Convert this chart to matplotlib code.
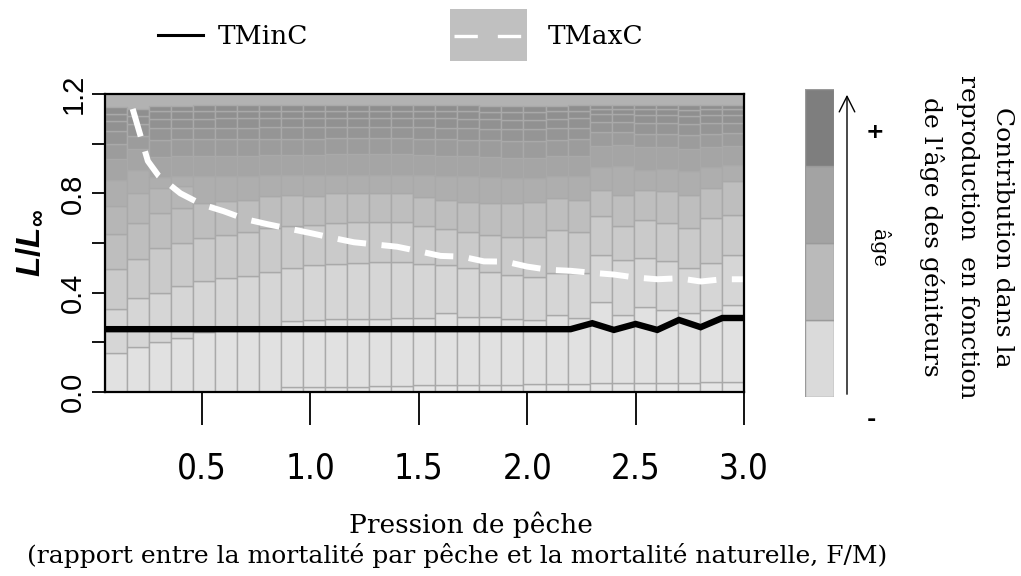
import numpy as np
import matplotlib.pyplot as plt
from matplotlib.patches import Rectangle
from matplotlib.lines import Line2D

plt.rcParams['mathtext.fontset'] = 'custom'
plt.rcParams['mathtext.it'] = 'Liberation Sans:italic:bold'
plt.rcParams['mathtext.rm'] = 'Liberation Sans:bold'
plt.rcParams['mathtext.bf'] = 'Liberation Sans:bold'

nan = np.nan
W, H = 1021, 576
SERIF = ['DejaVu Serif']

# upper limits (L/Linf) of the size/age cells, one row per boundary, one value per F column
row0 = [nan] * 8 + [0.020, 0.020, 0.022, 0.022, 0.025, 0.025, 0.027, 0.028, 0.030, 0.030, 0.030,
                    0.032, 0.032, 0.033, 0.035, 0.035, 0.035, 0.037, 0.037, 0.040, 0.040]
b1 = [0.156, 0.183, 0.200, 0.216, 0.240, 0.248, 0.250, 0.255, 0.285, 0.290, 0.292, 0.295, 0.295, 0.298,
      0.300, 0.317, 0.304, 0.301, 0.293, 0.290, 0.310, 0.297, 0.364, 0.310, 0.344, 0.331, 0.317, 0.331, 0.351]
b2 = [0.333, 0.378, 0.398, 0.425, 0.445, 0.458, 0.468, 0.485, 0.499, 0.512, 0.516, 0.520, 0.523, 0.523,
      0.515, 0.512, 0.499, 0.485, 0.472, 0.465, 0.478, 0.478, 0.552, 0.532, 0.539, 0.526, 0.500, 0.519, 0.552]
b3 = [0.495, 0.536, 0.578, 0.600, 0.620, 0.633, 0.646, 0.660, 0.667, 0.673, 0.680, 0.685, 0.685, 0.685,
      0.670, 0.656, 0.646, 0.633, 0.626, 0.626, 0.653, 0.646, 0.707, 0.667, 0.694, 0.680, 0.660, 0.700, 0.714]
b4 = [0.637, 0.680, 0.720, 0.741, 0.763, 0.770, 0.774, 0.788, 0.794, 0.790, 0.800, 0.800, 0.800, 0.800,
      0.785, 0.772, 0.767, 0.761, 0.761, 0.767, 0.781, 0.774, 0.815, 0.794, 0.815, 0.808, 0.794, 0.821, 0.848]
b5 = [0.747, 0.800, 0.820, 0.830] + [nan] * 25
s1 = [0.855, 0.895, 0.867, 0.868, 0.868, 0.870, 0.870, 0.872, 0.872, 0.872, 0.875, 0.875, 0.875, 0.875,
      0.873, 0.870, 0.868, 0.865, 0.862, 0.862, 0.868, 0.870, 0.905, 0.910, 0.895, 0.900, 0.890, 0.905, 0.915]
s2 = [0.940, 0.980, 0.948, 0.950, 0.950, 0.952, 0.952, 0.955, 0.955, 0.955, 0.958, 0.958, 0.958, 0.958,
      0.955, 0.952, 0.950, 0.946, 0.944, 0.944, 0.950, 0.952, 0.990, 0.995, 0.985, 0.985, 0.980, 0.985, 0.990]
s3 = [1.000, 1.032, 1.015, 1.017, 1.017, 1.018, 1.018, 1.020, 1.020, 1.020, 1.022, 1.022, 1.022, 1.022,
      1.020, 1.018, 1.016, 1.013, 1.010, 1.010, 1.016, 1.018, 1.046, 1.048, 1.040, 1.040, 1.036, 1.040, 1.044]
s4 = [1.052, 1.080, 1.062, 1.063, 1.064, 1.065, 1.065, 1.066, 1.066, 1.066, 1.068, 1.068, 1.068, 1.068,
      1.066, 1.065, 1.063, 1.060, 1.058, 1.058, 1.063, 1.065, 1.087, 1.089, 1.082, 1.082, 1.078, 1.082, 1.085]
s5 = [1.093, 1.113, 1.100, 1.101, 1.101, 1.102, 1.102, 1.103, 1.103, 1.103, 1.104, 1.104, 1.104, 1.104,
      1.103, 1.102, 1.101, 1.099, 1.097, 1.097, 1.101, 1.102, 1.119, 1.120, 1.115, 1.115, 1.112, 1.115, 1.117]
s6 = [1.121, 1.140, 1.130, 1.130, 1.131, 1.131, 1.131, 1.132, 1.132, 1.132, 1.133, 1.133, 1.133, 1.133,
      1.132, 1.131, 1.130, 1.128, 1.127, 1.127, 1.130, 1.131, 1.140, 1.141, 1.138, 1.138, 1.136, 1.138, 1.140]
s7 = [1.149, nan, 1.153, 1.153, 1.154, 1.154, 1.154, 1.155, 1.155, 1.155, 1.155, 1.155, 1.155, 1.155,
      1.155, 1.154, 1.154, 1.153, 1.152, 1.152, 1.153, 1.154, 1.156, 1.157, 1.156, 1.156, 1.155, 1.156, 1.157]
rows = [row0, b1, b2, b3, b4, b5, s1, s2, s3, s4, s5, s6, s7]
cell_grays = ['#e6e6e6', '#e1e1e1', '#d6d6d6', '#cacaca', '#bebebe', '#b6b6b6', '#aeaeae',
              '#a5a5a5', '#9c9c9c', '#959595', '#919191', '#8f8f8f', '#8e8e8e']

# reference lines
fishing = [0.1, 0.2, 0.3, 0.4, 0.5, 0.6, 0.7, 0.8, 0.9, 1.0, 1.1, 1.2, 1.3, 1.4, 1.5,
           1.6, 1.7, 1.8, 1.9, 2.0, 2.1, 2.2, 2.3, 2.4, 2.5, 2.6, 2.7, 2.8, 2.9, 3.0]
tminc = [0.253] * 22 + [0.277, 0.250, 0.274, 0.250, 0.290, 0.261, 0.298, 0.298]
tmax_f = [0.18, 0.25] + fishing[2:]
tmaxc = [1.14, 0.93, 0.87, 0.80, 0.755, 0.728, 0.696, 0.676, 0.658, 0.640, 0.621, 0.603, 0.594, 0.585,
         0.567, 0.548, 0.545, 0.526, 0.525, 0.505, 0.492, 0.488, 0.480, 0.473, 0.461, 0.454, 0.458,
         0.445, 0.454, 0.454]

# colour key (contribution to reproduction by spawner age)
key_grays = ['#dadada', '#bababa', '#a3a3a3', '#7e7e7e']

fig = plt.figure(figsize=(W / 100, H / 100), dpi=100)
ax = fig.add_axes([104.5 / W, 1 - 392 / H, 639.5 / W, 298 / H])
ax.set_facecolor('#b2b2b2')

edges = np.linspace(0.05, 3.0, 30)
centers = (edges[:-1] + edges[1:]) / 2
width = edges[1] - edges[0]
for j in range(len(centers)):
    prev = 0.0
    for k, row in enumerate(rows):
        v = row[j]
        if np.isnan(v):
            continue
        ax.bar(centers[j], v - prev, bottom=prev, width=width, color=cell_grays[k],
               edgecolor='#a9a9a9', linewidth=1.0)
        prev = v

ax.plot([0.05] + fishing, [tminc[0]] + tminc, color='black', lw=4.6, solid_joinstyle='miter')
ax.plot(tmax_f, tmaxc, color='white', lw=4.3, dashes=(4.8, 2.6))

ax.set_xlim(0.05, 3.0)
ax.set_ylim(0, 1.2)
ax.set_xticks([0.5, 1.0, 1.5, 2.0, 2.5, 3.0])
ax.set_xticklabels(['0.5', '1.0', '1.5', '2.0', '2.5', '3.0'],
                   family=['DejaVu Sans'], fontstretch='condensed', fontsize=25)
ax.set_yticks([0, 0.2, 0.4, 0.6, 0.8, 1.0, 1.2])
ax.set_yticklabels(['0.0', '', '0.4', '', '0.8', '', '1.2'], rotation=90, va='center',
                   family='Liberation Sans', fontsize=21)
ax.tick_params(axis='x', length=24, width=1.3, pad=19)
ax.tick_params(axis='y', length=9.4, width=1.3, pad=3)
for sp in ax.spines.values():
    sp.set_linewidth(1.6)
ax.set_ylabel(r'$L/L_{\infty}$', fontsize=24, labelpad=10)

fig.text(471 / W, 1 - 525 / H, 'Pression de pêche', family=SERIF, fontsize=19, ha='center', va='center')
fig.text(457 / W, 1 - 556 / H,
         '(rapport entre la mortalité par pêche et la mortalité naturelle, F/M)',
         family=SERIF, fontsize=18, ha='center', va='center')

# legend
fig.add_artist(Line2D([158 / W, 203 / W], [1 - 35 / H] * 2, color='black', lw=2.2))
fig.text(218 / W, 1 - 36 / H, 'TMinC', family=SERIF, fontsize=19, ha='left', va='center')
fig.add_artist(Rectangle((450 / W, 1 - 61 / H), 77 / W, 52 / H, color='#c0c0c0', lw=0))
fig.add_artist(Line2D([454 / W, 527 / W], [1 - 36 / H] * 2, color='white', lw=2.4, dashes=(7, 6)))
fig.text(548 / W, 1 - 36 / H, 'TMaxC', family=SERIF, fontsize=19, ha='left', va='center')

# colour key
kax = fig.add_axes([805 / W, 1 - 397 / H, 29 / W, 308 / H])
kax.bar([0, 0, 0, 0], [1, 1, 1, 1], bottom=[0, 1, 2, 3], width=1, color=key_grays,
        edgecolor='#9a9a9a', linewidth=1.0)
kax.set_xlim(-0.5, 0.5)
kax.set_ylim(0, 4)
kax.axis('off')

fig.add_artist(plt.Annotation('', xy=(847 / W, 1 - 92 / H), xytext=(847 / W, 1 - 397 / H),
                              xycoords='figure fraction', textcoords='figure fraction',
                              arrowprops=dict(arrowstyle='->', lw=1.0, mutation_scale=28)))
fig.text(875 / W, 1 - 132 / H, '+', fontsize=16, fontweight='bold', ha='center', va='center')
fig.text(871 / W, 1 - 420 / H, '-', fontsize=16, fontweight='bold', ha='center', va='center')
fig.text(879 / W, 1 - 248 / H, 'âge', family=SERIF, fontsize=15, rotation=-90, ha='center', va='center')
fig.text(1002 / W, 1 - 237 / H, 'Contribution dans la', family=SERIF, fontsize=18,
         rotation=-90, ha='center', va='center')
fig.text(967 / W, 1 - 237 / H, 'reproduction  en fonction', family=SERIF, fontsize=18,
         rotation=-90, ha='center', va='center')
fig.text(931 / W, 1 - 237 / H, "de l'âge des géniteurs", family=SERIF, fontsize=18,
         rotation=-90, ha='center', va='center')

fig.savefig('out.png', dpi=100)
